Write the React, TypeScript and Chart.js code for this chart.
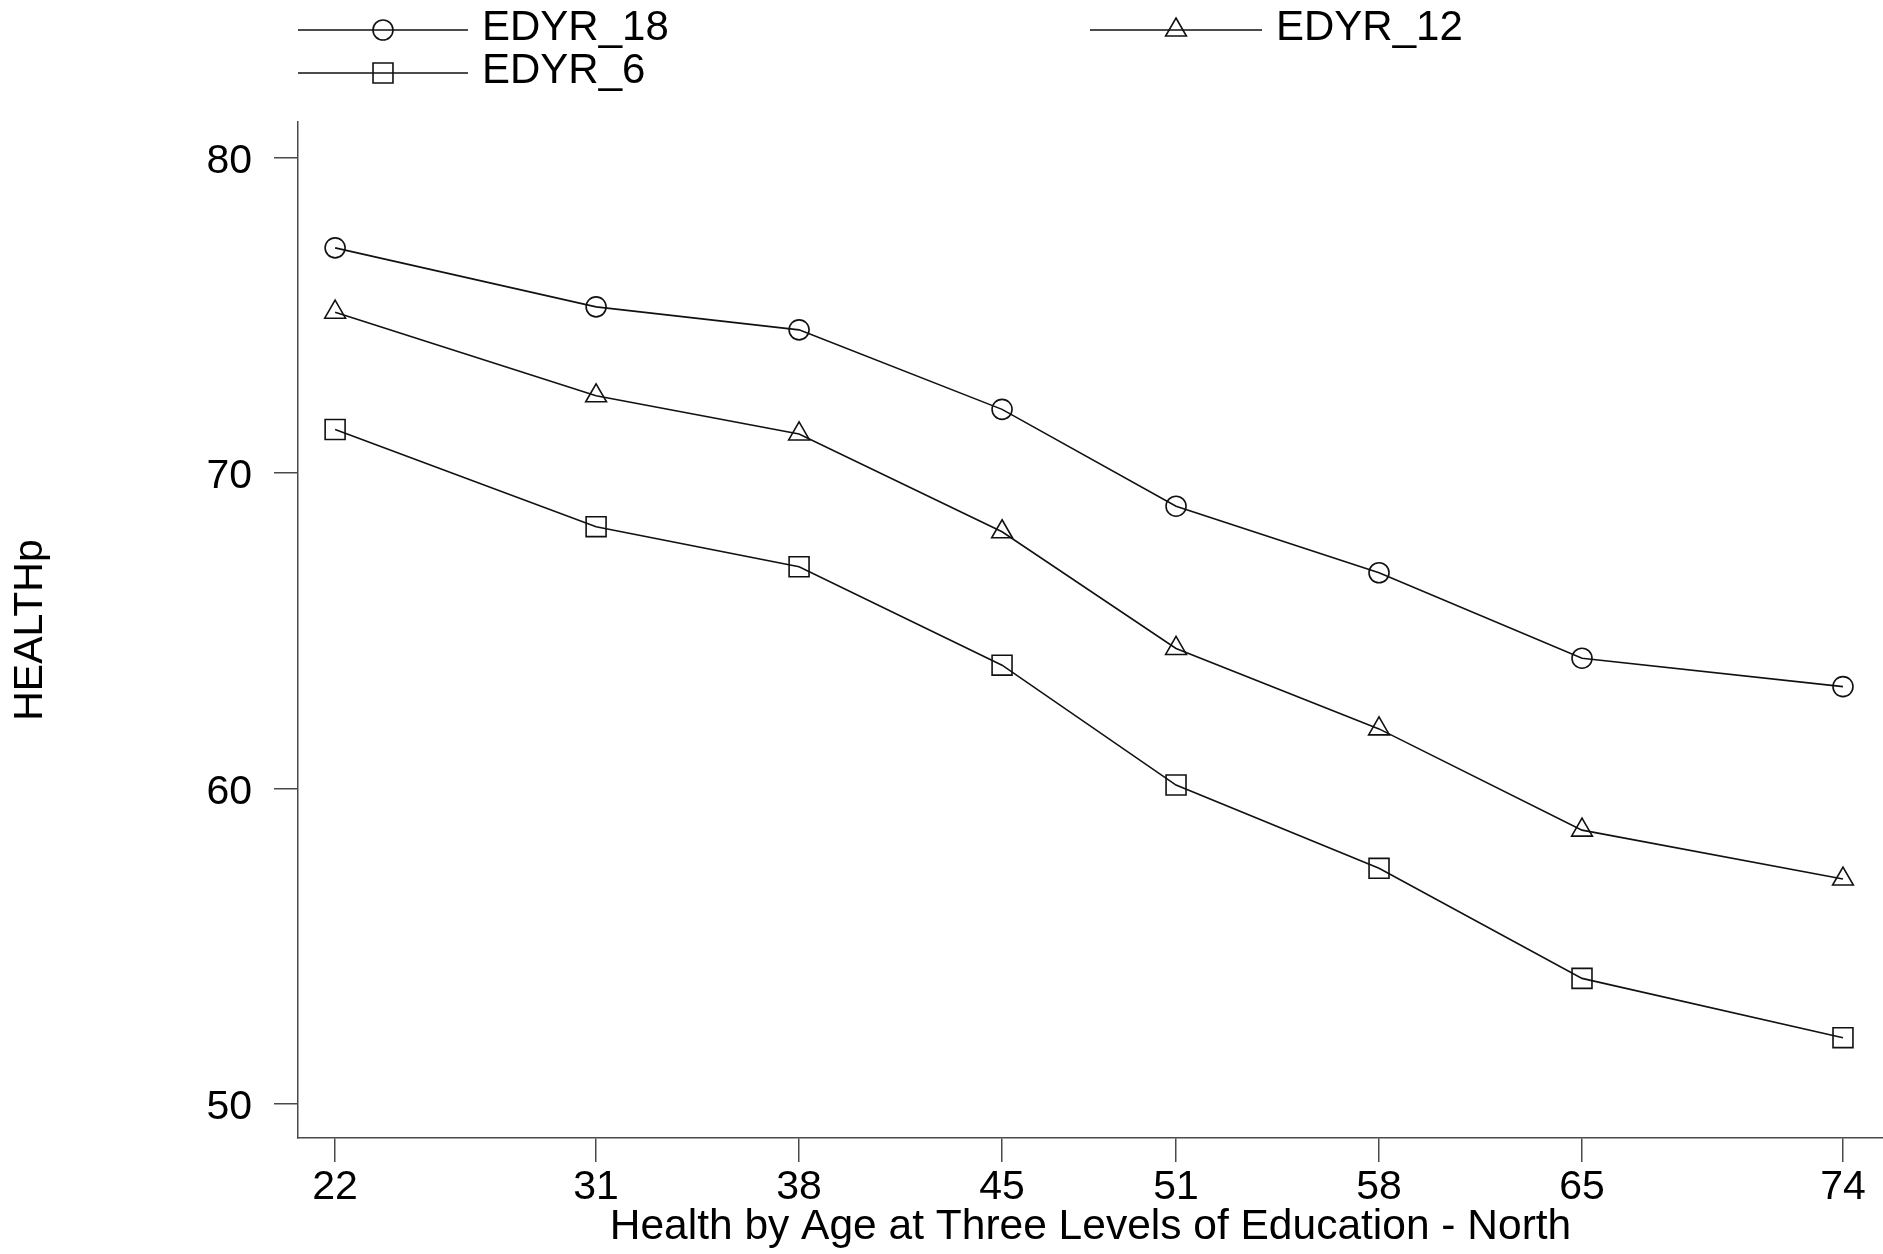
import React, { useEffect, useRef } from 'react';
import { Chart, registerables } from 'chart.js';

Chart.register(...registerables);

// ---- Data ----
const ages = [22, 31, 38, 45, 51, 58, 65, 74];
const edyr18 = [77.14, 75.27, 74.54, 72.02, 68.95, 66.84, 64.13, 63.23];
const edyr12 = [75.1, 72.45, 71.24, 68.14, 64.44, 61.89, 58.68, 57.13];
const edyr6 = [71.38, 68.3, 67.03, 63.91, 60.11, 57.47, 53.98, 52.1];
const yTicks = [50, 60, 70, 80];
const seriesNames = ['EDYR_18', 'EDYR_12', 'EDYR_6'];
const xTitle = 'Health by Age at Three Levels of Education - North';
const yTitle = 'HEALTHp';

const FONT = "'Liberation Sans', Arial, sans-serif";
const AXIS_COLOR = '#4a4a4a';
const LINE_COLOR = '#111';

function drawMarker(ctx: CanvasRenderingContext2D, style: string, x: number, y: number, r: number) {
  ctx.beginPath();
  if (style === 'circle') {
    ctx.arc(x, y, r, 0, Math.PI * 2);
  } else if (style === 'triangle') {
    for (let i = 0; i < 3; i++) {
      const a = (i * 2 * Math.PI) / 3;
      const px = x + Math.sin(a) * r;
      const py = y - Math.cos(a) * r;
      if (i === 0) ctx.moveTo(px, py);
      else ctx.lineTo(px, py);
    }
    ctx.closePath();
  } else {
    const s = Math.SQRT1_2 * r;
    ctx.rect(x - s, y - s, 2 * s, 2 * s);
  }
  ctx.stroke();
}

const legendPlugin = {
  id: 'customLegend',
  afterDraw(chart: any) {
    const ctx: CanvasRenderingContext2D = chart.ctx;
    const items = [
      { ds: 0, x0: 298, x1: 468, y: 30 },
      { ds: 1, x0: 1090, x1: 1262, y: 30 },
      { ds: 2, x0: 298, x1: 468, y: 73 },
    ];
    ctx.save();
    items.forEach((it) => {
      const ds = chart.data.datasets[it.ds];
      ctx.strokeStyle = LINE_COLOR;
      ctx.lineWidth = 1.6;
      ctx.beginPath();
      ctx.moveTo(it.x0, it.y);
      ctx.lineTo(it.x1, it.y);
      ctx.stroke();
      drawMarker(ctx, ds.pointStyle, (it.x0 + it.x1) / 2, it.y, ds.pointRadius);
      ctx.fillStyle = '#000';
      ctx.font = `42px ${FONT}`;
      ctx.textAlign = 'left';
      ctx.textBaseline = 'alphabetic';
      ctx.fillText(ds.label, it.x1 + 14, it.y + 10);
    });
    ctx.restore();
  },
};

export default function App() {
  const canvasRef = useRef<HTMLCanvasElement | null>(null);

  useEffect(() => {
    document.body.style.margin = '0';
    document.body.style.overflow = 'hidden';
    const canvas = canvasRef.current;
    if (!canvas) return;

    const mk = (label: string, values: number[], style: string, radius: number) => ({
      label,
      data: ages.map((a, i) => ({ x: a, y: values[i] })),
      borderColor: LINE_COLOR,
      borderWidth: 1.6,
      backgroundColor: 'rgba(0,0,0,0)',
      pointStyle: style,
      pointRadius: radius,
      pointBorderColor: LINE_COLOR,
      pointBorderWidth: 1.6,
      pointBackgroundColor: 'rgba(0,0,0,0)',
      tension: 0,
      fill: false,
      clip: false,
    });

    const chart = new Chart(canvas, {
      type: 'line',
      data: {
        datasets: [
          mk(seriesNames[0], edyr18, 'circle', 10),
          mk(seriesNames[1], edyr12, 'triangle', 12),
          mk(seriesNames[2], edyr6, 'rect', 14.1),
        ],
      },
      options: {
        animation: false,
        responsive: false,
        devicePixelRatio: 1,
        layout: { autoPadding: false, padding: { top: 122, right: 0, bottom: 0, left: 0 } },
        plugins: {
          legend: { display: false },
          tooltip: { enabled: false },
        },
        scales: {
          x: {
            type: 'linear',
            min: 20.72,
            max: 75.38,
            afterBuildTicks: (s: any) => {
              s.ticks = ages.map((v) => ({ value: v }));
            },
            afterFit: (s: any) => {
              s.height = 116;
              s.paddingLeft = 0;
              s.paddingRight = 0;
            },
            grid: {
              display: true,
              drawOnChartArea: false,
              drawTicks: true,
              tickLength: 24,
              color: AXIS_COLOR,
              lineWidth: 1.5,
            },
            border: { display: true, color: AXIS_COLOR, width: 1.5 },
            ticks: {
              color: '#000',
              font: { family: FONT, size: 41 },
              padding: 1,
              maxRotation: 0,
              autoSkip: false,
            },
            title: {
              display: true,
              text: xTitle,
              color: '#000',
              font: { family: FONT, size: 42.5 },
              padding: { top: 0, bottom: 1 },
            },
          },
          y: {
            type: 'linear',
            min: 48.92,
            max: 81.13,
            afterBuildTicks: (s: any) => {
              s.ticks = yTicks.map((v) => ({ value: v }));
            },
            afterFit: (s: any) => {
              s.width = 298;
              s.paddingTop = 0;
              s.paddingBottom = 0;
            },
            grid: {
              display: true,
              drawOnChartArea: false,
              drawTicks: true,
              tickLength: 24,
              color: AXIS_COLOR,
              lineWidth: 1.5,
            },
            border: { display: true, color: AXIS_COLOR, width: 1.5 },
            ticks: {
              color: '#000',
              font: { family: FONT, size: 41 },
              padding: 22,
              labelOffset: 4,
            },
            title: {
              display: true,
              text: yTitle,
              color: '#000',
              font: { family: FONT, size: 41 },
              padding: { top: 6, bottom: 0 },
            },
          },
        },
      },
      plugins: [legendPlugin],
    } as any);

    return () => chart.destroy();
  }, []);

  return (
    <div style={{ position: 'absolute', left: 0, top: 0, width: 1883, height: 1254, background: '#fff' }}>
      <canvas ref={canvasRef} width={1883} height={1254} style={{ display: 'block' }} />
    </div>
  );
}
